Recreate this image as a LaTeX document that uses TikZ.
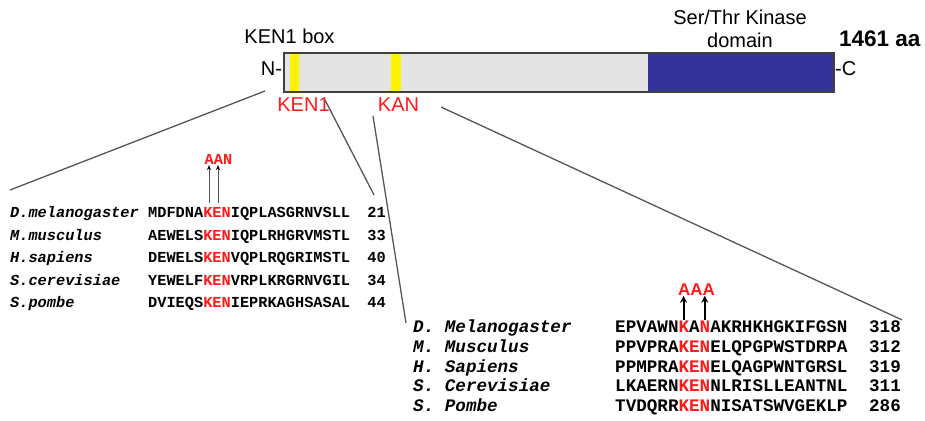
\documentclass[tikz,border=0pt]{standalone}
\usepackage{fontspec}
\setmainfont{Liberation Sans}
\setmonofont{Liberation Mono}
\usetikzlibrary{positioning,calc,arrows.meta}

\definecolor{kinblue}{HTML}{333399}
\definecolor{bargray}{HTML}{E4E4E4}
\definecolor{kenred}{HTML}{FF1A1A}
\definecolor{linegray}{HTML}{555555}
\newcommand{\kn}[1]{\textcolor{kenred}{#1}}

\tikzset{
  lbl/.style={inner sep=0pt, text height=0.72em, text depth=0pt,
    font=\fontsize{20}{22}\selectfont},
  mono/.style={inner sep=0pt, text height=0.58em, text depth=0pt},
  fa/.style={font=\ttfamily\bfseries\fontsize{15.3}{18}\selectfont},
  fb/.style={font=\ttfamily\bfseries\fontsize{17.6}{20}\selectfont},
  spa/.style={mono, anchor=west, font=\ttfamily\bfseries\itshape\fontsize{15.3}{18}\selectfont},
  spb/.style={mono, anchor=west, font=\ttfamily\bfseries\itshape\fontsize{17.6}{20}\selectfont},
  zoomline/.style={draw=linegray, line width=1.3pt},
}

\begin{document}
\begin{tikzpicture}[x=1pt, y=-1pt]
  \useasboundingbox (0,0) rectangle (925,420);

  % protein bar
  \node[draw=black!75, line width=1.2pt, fill=bargray, inner sep=0pt,
    minimum width=550pt, minimum height=39pt] (prot) at (559,72.5) {};
  \fill[kinblue] (648,53.6) rectangle (833.4,91.4);
  \fill[yellow] (290,53.6) rectangle (299,91.4);
  \fill[yellow] (391,53.6) rectangle (401,91.4);
  \draw[black!75, line width=1.2pt] (prot.north west) rectangle (prot.south east);

  \node[lbl] (kenbox) at (289.5,40) {KEN1 box};
  \node[lbl] (nterm) at (271.5,72) {N-};
  \node[lbl, anchor=west] (cterm) at (835,72) {-C};
  \node[inner sep=0pt, align=center, font=\fontsize{20}{23}\selectfont] (kinase) at (740,29) {Ser/Thr Kinase\\domain};
  \node[lbl, anchor=west, font=\bfseries\fontsize{22.5}{24}\selectfont] (len) at (839,43) {1461 aa};
  \node[lbl, text=kenred] (ken) at (303.5,108) {KEN1};
  \node[lbl, text=kenred] (kan) at (398.5,108) {KAN};

  % first alignment
  \foreach \nm/\sq/\n [count=\i from 0] in {
      D.melanogaster/{MDFDNA\kn{KEN}IQPLASGRNVSLL}/21,
      M.musculus/{AEWELS\kn{KEN}IQPLRHGRVMSTL}/33,
      H.sapiens/{DEWELS\kn{KEN}VQPLRQGRIMSTL}/40,
      S.cerevisiae/{YEWELF\kn{KEN}VRPLKRGRNVGIL}/34,
      S.pombe/{DVIEQS\kn{KEN}IEPRKAGHSASAL}/44} {
    \node[spa] (nma\i) at (10,215+22.5*\i) {\nm};
    \node[mono, fa, anchor=west] (sqa\i) at (148,215+22.5*\i) {\sq};
    \node[mono, fa, anchor=east] (nua\i) at (386,215+22.5*\i) {\n};
  }
  \node[mono, fa, text=kenred] (aan) at (218.5,162) {AAN};
  \coordinate (ka) at ($(sqa0.west)+(61,-12)$);
  \coordinate (ea) at ($(sqa0.west)+(70,-12)$);
  \draw[linegray, line width=0.8pt, -{Stealth[length=5pt,width=4pt,black]}] (ka) -- (ka |- aan.south);
  \draw[linegray, line width=0.8pt, -{Stealth[length=5pt,width=4pt,black]}] (ea) -- (ea |- aan.south);

  % second alignment
  \foreach \nm/\sq/\n [count=\i from 0] in {
      D. Melanogaster/{EPVAWN\kn{K}A\kn{N}AKRHKHGKIFGSN}/318,
      M. Musculus/{PPVPRA\kn{KEN}ELQPGPWSTDRPA}/312,
      H. Sapiens/{PPMPRA\kn{KEN}ELQAGPWNTGRSL}/319,
      S. Cerevisiae/{LKAERN\kn{KEN}NLRISLLEANTNL}/311,
      S. Pombe/{TVDQRR\kn{KEN}NISATSWVGEKLP}/286} {
    \node[spb] (nmb\i) at (413,330+19.6*\i) {\nm};
    \node[mono, fb, anchor=west] (sqb\i) at (615,330+19.6*\i) {\sq};
    \node[mono, fb, anchor=east] (nub\i) at (901,330+19.6*\i) {\n};
  }
  \node[lbl, text=kenred, font=\bfseries\fontsize{17}{19}\selectfont] (aaa) at (696.5,292) {AAA};
  \coordinate (kb) at ($(sqb0.west)+(68.6,-10)$);
  \coordinate (nb) at ($(sqb0.west)+(89.8,-10)$);
  \draw[black, line width=2pt, -{Stealth[length=7pt,width=7pt]}] (kb) -- (kb |- aaa.south);
  \draw[black, line width=2pt, -{Stealth[length=7pt,width=7pt]}] (nb) -- (nb |- aaa.south);

  % zoom lines
  \coordinate (z1) at (265,91);
  \coordinate (z2) at (325,100);
  \coordinate (z3) at (373,116);
  \coordinate (z4) at (441,107);
  \draw[zoomline] (z1) -- (nma0.west |- 0,190);
  \draw[zoomline] (z2) -- ($(nua0.north east)+(-12,-17)$);
  \draw[zoomline] (z3) -- ($(nmb0.west)+(-7,-7)$);
  \draw[zoomline] (z4) -- ($(nub0.north east)+(1,-7)$);
\end{tikzpicture}
\end{document}
